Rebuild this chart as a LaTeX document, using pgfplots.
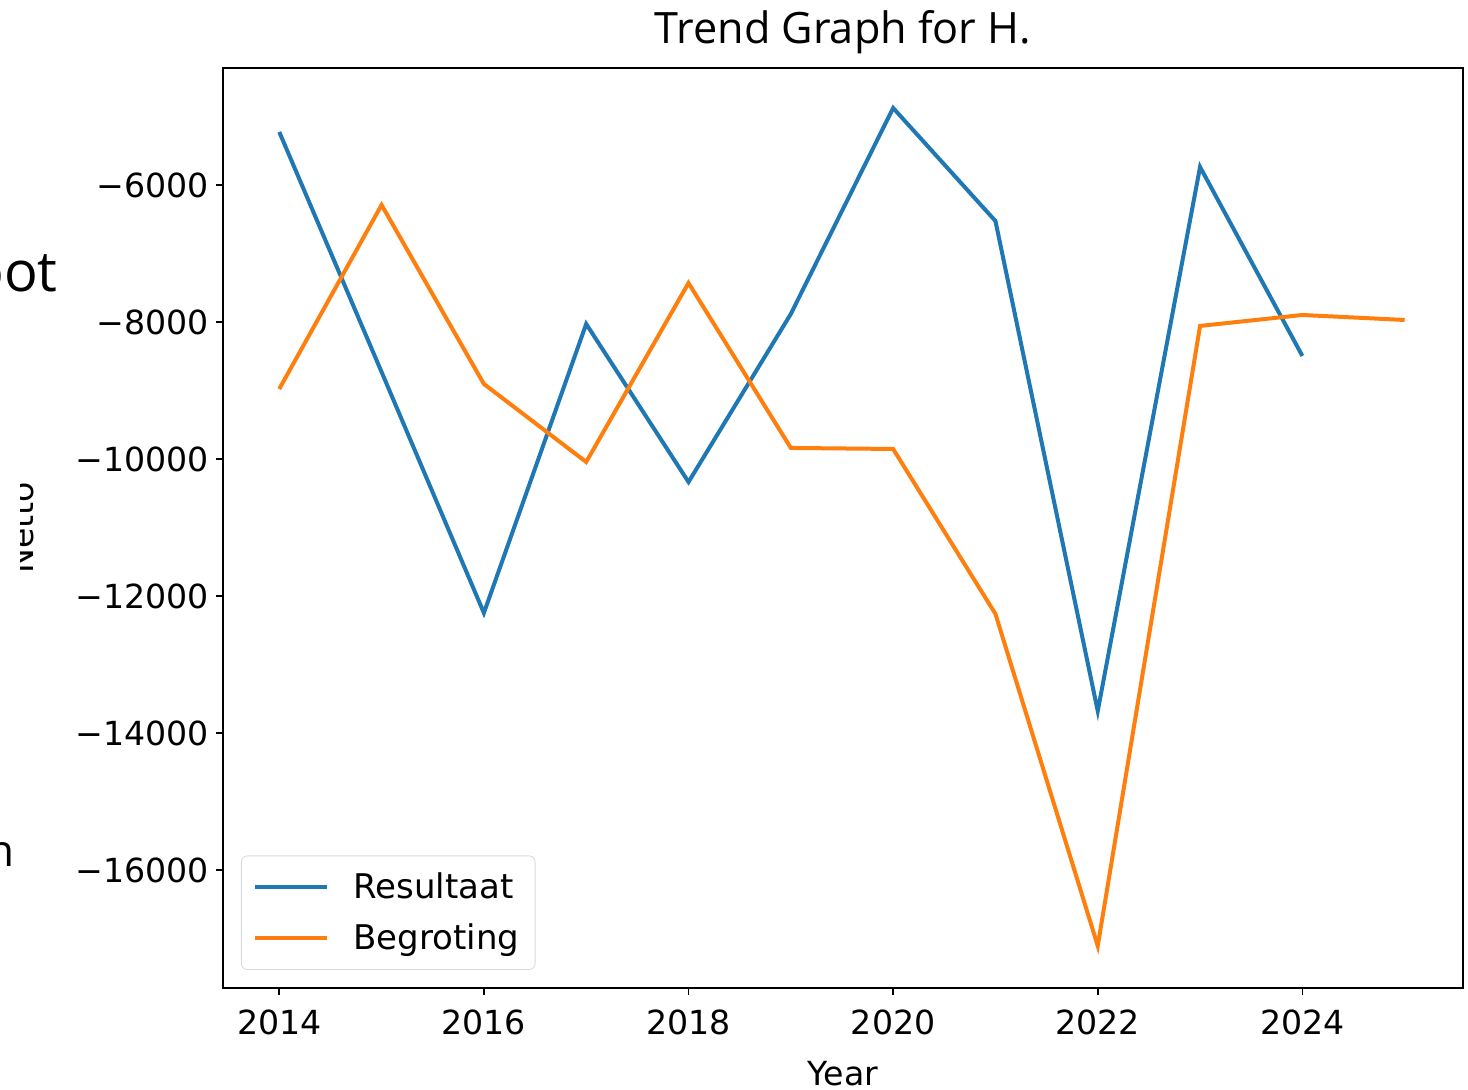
\documentclass[border=0pt]{standalone}
\usepackage{fontspec}
\setmainfont{DejaVu Sans}
\newfontfamily\titlefont{Open Sans}
\usepackage{pgfplots}
\pgfplotsset{compat=1.18}
\definecolor{mplblue}{HTML}{1F77B4}
\definecolor{mplorange}{HTML}{FF7F0E}
\begin{document}
\begin{tikzpicture}
\clip (-111.5pt,-51pt) rectangle (622.5pt,494pt);
\begin{axis}[
  scale only axis,
  width=620pt, height=460pt,
  xmin=2013.45, xmax=2025.57,
  ymin=-17723, ymax=-4292,
  xtick={2014,2016,2018,2020,2022,2024},
  ytick={-16000,-14000,-12000,-10000,-8000,-6000},
  yticklabels={−16000,−14000,−12000,−10000,−8000,−6000},
  scaled y ticks=false, scaled x ticks=false,
  /pgf/number format/1000 sep={},
  /pgf/number format/assume math mode=true,
  tick label style={font=\fontsize{16.6}{19}\selectfont},
  xticklabel style={yshift=-4pt},
  tick align=outside,
  major tick length=3.5pt,
  xtick pos=bottom, ytick pos=left,
  axis line style={line width=0.8pt},
  every tick/.style={black, line width=0.8pt},
  title={\titlefont\fontsize{21.6}{25}\selectfont Trend Graph for H.},
  title style={yshift=-2.5pt},
  xlabel={Year},
  xlabel style={yshift=-6pt},
  ylabel={Netto},
  ylabel shift=14pt,
  label style={font=\fontsize{16.6}{19}\selectfont},
  legend style={at={(0.0145,0.0196)}, anchor=south west, draw=black!15, rounded corners=3pt,
    font=\fontsize{17}{20}\selectfont, row sep=7pt, inner xsep=6pt, inner ysep=6.5pt},
  legend cell align=left,
  legend image code/.code={\draw[#1] (0pt,0pt) -- (36pt,0pt); \path (46pt,0pt);},
]
\addplot[mplblue, line width=2pt] coordinates {
(2014,-5226) (2015,-8730) (2016,-12248) (2017,-8029) (2018,-10336) (2019,-7883)
(2020,-4876) (2021,-6526) (2022,-13679) (2023,-5737) (2024,-8496)};
\addlegendentry{Resultaat}
\addplot[mplorange, line width=2pt] coordinates {
(2014,-8978) (2015,-6292) (2016,-8905) (2017,-10044) (2018,-7431) (2019,-9839)
(2020,-9854) (2021,-12262) (2022,-17109) (2023,-8058) (2024,-7898) (2025,-7971)};
\addlegendentry{Begroting}
\end{axis}
\fill[white] (-111.5pt,199pt) rectangle (-101.5pt,254pt);
\node[anchor=base east, inner sep=0pt, font=\titlefont\fontsize{28}{32}\selectfont] at (-82.5pt,348pt) {oot};
\node[anchor=base east, inner sep=0pt, font=\titlefont\fontsize{22}{26}\selectfont] at (-104pt,60.5pt) {n};
\end{tikzpicture}
\end{document}
